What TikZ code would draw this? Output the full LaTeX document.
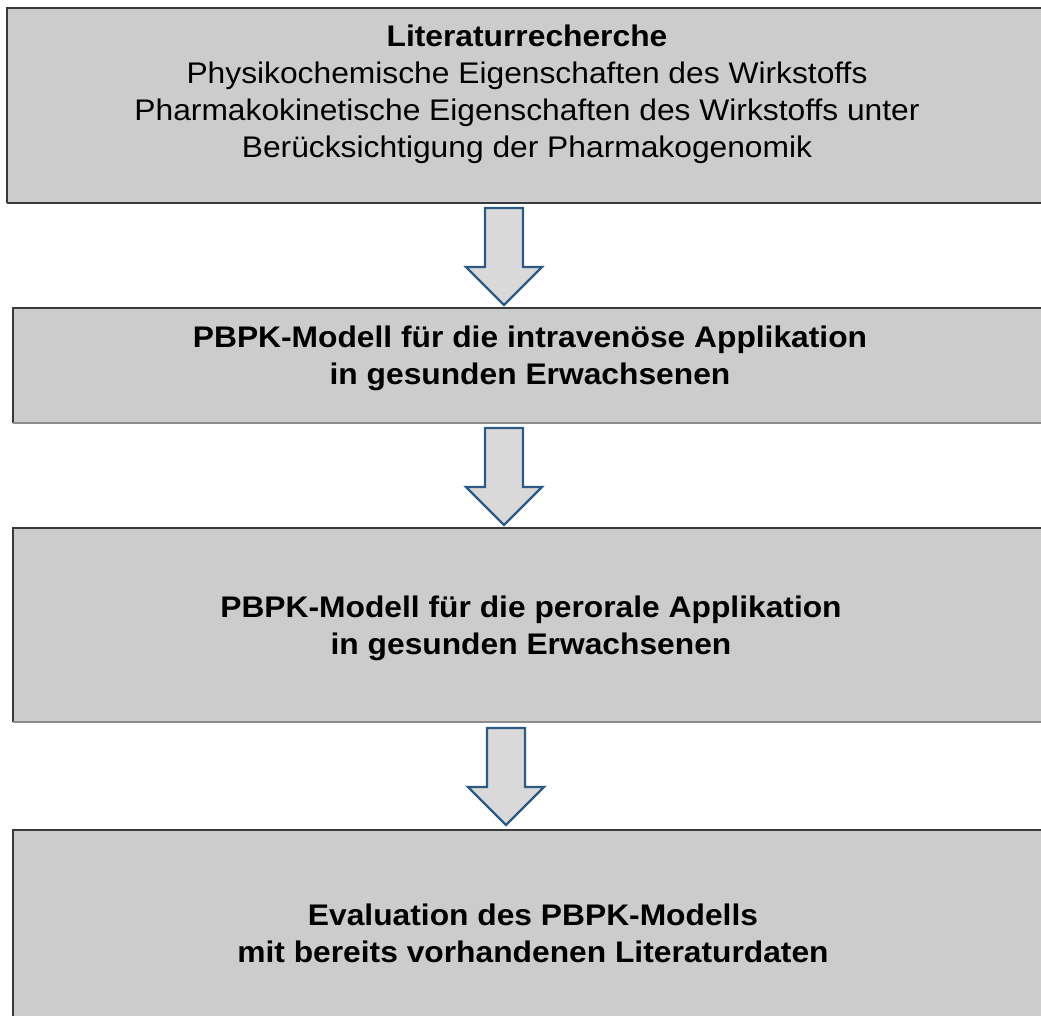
\documentclass[tikz,border=0pt]{standalone}
\usepackage{fontspec}
\setmainfont[FakeStretch=1.066]{Liberation Sans}
\usetikzlibrary{calc}
\definecolor{boxgray}{HTML}{CCCCCC}
\definecolor{edgedark}{HTML}{3A3A3A}
\definecolor{edgelight}{HTML}{8C8C8C}
\definecolor{arrowfill}{HTML}{D9D9D9}
\definecolor{arrowblue}{HTML}{2C5A85}
\begin{document}
\begin{tikzpicture}[x=1pt,y=-1pt,
  boxshape/.style={rectangle, fill=boxgray, inner sep=0pt, outer sep=0pt, anchor=north west},
  darkedge/.style={draw=edgedark, line width=1.6pt},
  lightedge/.style={draw=edgelight, line width=1.6pt},
  boxtext/.style={align=center, inner sep=0pt, font=\fontsize{29.8}{37}\selectfont, text=black},
  boldtext/.style={boxtext, font=\fontsize{29.8}{37}\selectfont\bfseries},
  arrowstyle/.style={fill=arrowfill, draw=arrowblue, line width=2.4pt, line join=miter},
  downarrow/.pic={\draw[arrowstyle] (-19,0) -- (19,0) -- (19,59) -- (38,59) -- (0,97) -- (-38,59) -- (-19,59) -- cycle;}
]
\useasboundingbox (0,0) rectangle (1041,1016);
\clip (0,0) rectangle (1041,1016);

% boxes
\node[boxshape, minimum width=1040pt, minimum height=195pt] (box1) at (7,8) {};
\node[boxshape, minimum width=1034pt, minimum height=115pt] (box2) at (13,308) {};
\node[boxshape, minimum width=1034pt, minimum height=194pt] (box3) at (13,528) {};
\node[boxshape, minimum width=1034pt, minimum height=200pt] (box4) at (13,830) {};

\draw[darkedge] (box1.south west) -- (box1.north west) -- (box1.north east);
\draw[darkedge] (box1.south west) -- (box1.south east);
\draw[darkedge] (box2.south west) -- (box2.north west) -- (box2.north east);
\draw[lightedge] (box2.south west) -- (box2.south east);
\draw[darkedge] (box3.south west) -- (box3.north west) -- (box3.north east);
\draw[lightedge] (box3.south west) -- (box3.south east);
\draw[darkedge] (box4.south west) -- (box4.north west) -- (box4.north east);

% texts
\node[boxtext] (t1) at (527,94) {\textbf{Literaturrecherche}\\Physikochemische Eigenschaften des Wirkstoffs\\Pharmakokinetische Eigenschaften des Wirkstoffs unter\\Berücksichtigung der Pharmakogenomik};
\node[boldtext] (t2) at (530,358) {PBPK-Modell für die intravenöse Applikation\\in gesunden Erwachsenen};
\node[boldtext] (t3) at (531,628) {PBPK-Modell für die perorale Applikation\\in gesunden Erwachsenen};
\node[boldtext] (t4) at (533,933) {Evaluation des PBPK-Modells\\mit bereits vorhandenen Literaturdaten};

% arrows
\coordinate (a1) at (504,208);
\coordinate (a2) at (504,428);
\coordinate (a3) at (506,728);
\pic at (a1) {downarrow};
\pic at (a2) {downarrow};
\pic at (a3) {downarrow};
\end{tikzpicture}
\end{document}
